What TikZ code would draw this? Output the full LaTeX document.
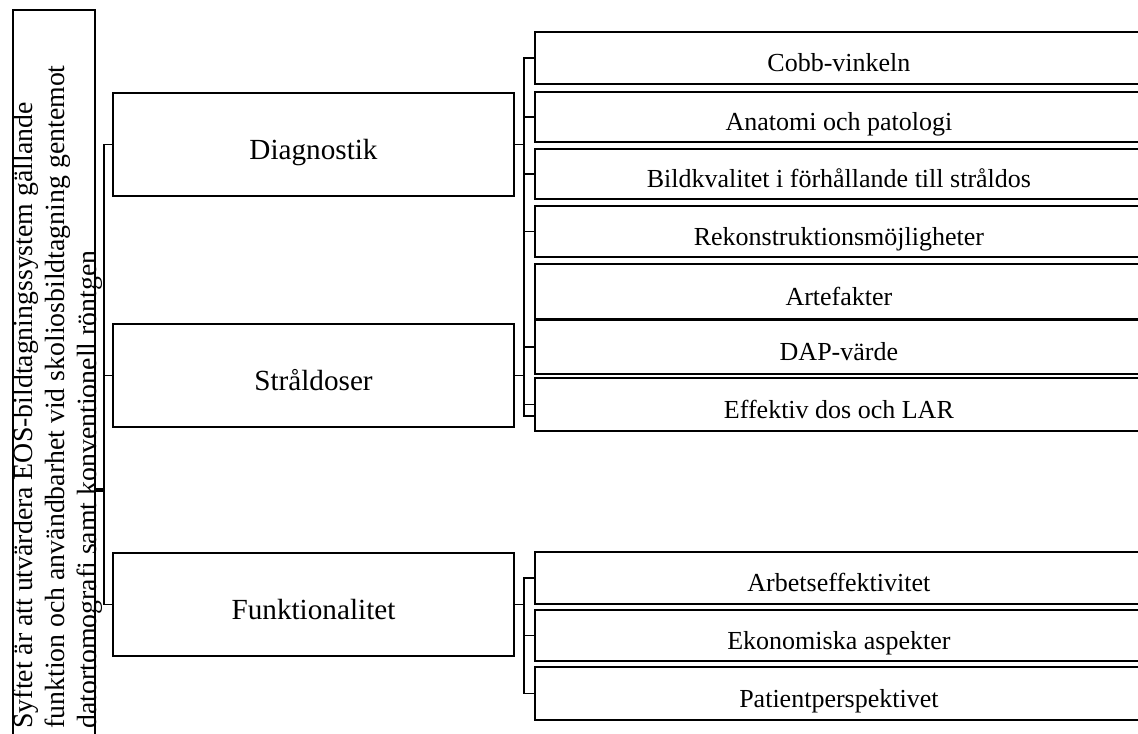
\documentclass[tikz,border=0pt]{standalone}
\usepackage{fontspec}
\setmainfont{Liberation Serif}
\usetikzlibrary{positioning}

\begin{document}
\begin{tikzpicture}[
  x=0.5pt, y=-0.5pt,
  rootbox/.style={draw, line width=0.9pt, minimum width=41pt, minimum height=366pt, anchor=north west, inner sep=0pt},
  aimtext/.style={rotate=90, anchor=north west, inner sep=0pt, align=left, font=\fontsize{13.9}{16}\selectfont},
  topic/.style={draw, line width=0.9pt, minimum width=200.5pt, minimum height=51.5pt, inner ysep=0pt, text height=18.3pt, text depth=3.3pt, font=\fontsize{14.6}{17}\selectfont},
  item/.style={draw, line width=0.9pt, minimum width=304pt, anchor=north west, inner ysep=0pt, text height=17pt, text depth=3pt, font=\fontsize{13}{15}\selectfont},
  link/.style={line width=0.9pt},
  rootlink/.style={line width=1.7pt}
]
\useasboundingbox (0,0) rectangle (1138,733);

% aim of the study
\node[rootbox] (root) at (12,9) {};
\node[aimtext] (aim) at (13,729) {Syftet är att utvärdera EOS-bildtagningssystem gällande\\
funktion och användbarhet vid skoliosbildtagning gentemot\\
datortomografi samt konventionell röntgen};

% themes
\node[topic] (diag) at (313.5,144.5) {Diagnostik};
\node[topic] (stral) at (313.5,375.5) {Stråldoser};
\node[topic] (funk) at (313.5,604.5) {Funktionalitet};

% sub themes
\node[item, minimum height=26pt] (cobb) at (534,31) {Cobb-vinkeln};
\node[item, minimum height=25pt] (anat) at (534,91) {Anatomi och patologi};
\node[item, minimum height=25pt] (bild) at (534,148) {Bildkvalitet i förhållande till stråldos};
\node[item, minimum height=25.5pt] (rekon) at (534,205) {Rekonstruktionsmöjligheter};
\node[item, minimum height=27.5pt] (artef) at (534,263) {Artefakter};
\node[item, minimum height=27pt] (dap) at (534,319) {DAP-värde};
\node[item, minimum height=26.5pt] (eff) at (534,377) {Effektiv dos och LAR};

\node[item, minimum height=26pt] (arb) at (534,551) {Arbetseffektivitet};
\node[item, minimum height=25.5pt] (eko) at (534,609) {Ekonomiska aspekter};
\node[item, minimum height=26.5pt] (pat) at (534,666) {Patientperspektivet};

% connectors
\coordinate (rt) at (104,490);
\coordinate (dt) at (524,144.5);
\coordinate (st) at (524,375.5);
\coordinate (ft) at (524,604.5);
\coordinate (artend) at (534,416);

\draw[rootlink] (rt -| root.east) -- (rt);
\foreach \t in {diag,stral,funk}
  \draw[link] (rt) |- (\t.west);

\draw[link] (diag.east) -- (dt);
\foreach \s in {cobb,anat,bild,rekon}
  \draw[link] (dt) |- (\s.west);
\draw[link] (dt) |- (artend);

\draw[link] (stral.east) -- (st);
\foreach \s in {dap,eff}
  \draw[link] (st) |- (\s.west);

\draw[link] (funk.east) -- (ft);
\foreach \s in {arb,eko,pat}
  \draw[link] (ft) |- (\s.west);
\end{tikzpicture}
\end{document}
